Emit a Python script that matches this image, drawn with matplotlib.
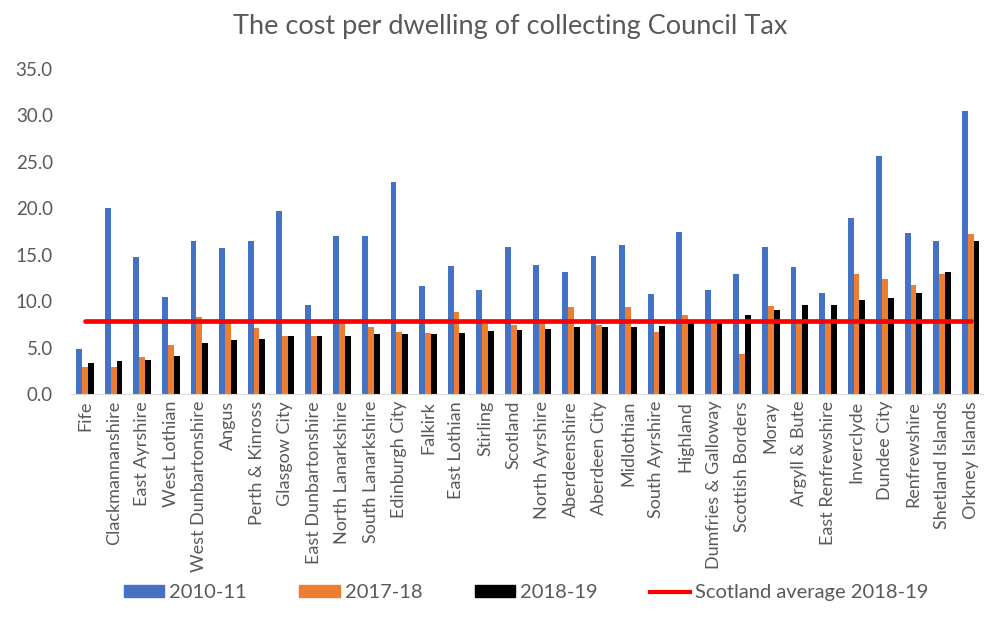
import numpy as np
import matplotlib.pyplot as plt
from matplotlib.lines import Line2D
from matplotlib.patches import Patch

plt.rcParams["font.family"] = ["Lato", "DejaVu Sans"]

councils = [
    "Fife", "Clackmannanshire", "East Ayrshire", "West Lothian", "West Dunbartonshire",
    "Angus", "Perth & Kinross", "Glasgow City", "East Dunbartonshire", "North Lanarkshire",
    "South Lanarkshire", "Edinburgh City", "Falkirk", "East Lothian", "Stirling",
    "Scotland", "North Ayrshire", "Aberdeenshire", "Aberdeen City", "Midlothian",
    "South Ayrshire", "Highland", "Dumfries & Galloway", "Scottish Borders", "Moray",
    "Argyll & Bute", "East Renfrewshire", "Inverclyde", "Dundee City", "Renfrewshire",
    "Shetland Islands", "Orkney Islands",
]
cost_2010 = [4.8, 20.0, 14.8, 10.5, 16.5, 15.7, 16.5, 19.7, 9.6, 17.0, 17.0, 22.8,
             11.6, 13.8, 11.2, 15.8, 13.9, 13.1, 14.9, 16.1, 10.8, 17.4, 11.2, 12.9,
             15.8, 13.7, 10.9, 19.0, 25.6, 17.3, 16.5, 30.5]
cost_2017 = [2.9, 2.9, 4.0, 5.3, 8.3, 7.8, 7.1, 6.3, 6.2, 7.8, 7.2, 6.7,
             6.6, 8.8, 7.5, 7.4, 7.8, 9.4, 7.4, 9.4, 6.7, 8.5, 7.5, 4.3,
             9.5, 8.0, 7.5, 12.9, 12.4, 11.7, 12.9, 17.2]
cost_2018 = [3.3, 3.6, 3.7, 4.1, 5.5, 5.8, 5.9, 6.2, 6.2, 6.3, 6.5, 6.5,
             6.5, 6.6, 6.8, 6.9, 7.0, 7.2, 7.2, 7.2, 7.3, 7.8, 7.9, 8.5,
             9.0, 9.6, 9.6, 10.1, 10.3, 10.9, 13.1, 16.5]
scotland_avg = 7.9

text_col = "#595959"

fig = plt.figure(figsize=(9.84, 6.25), dpi=100)
ax = fig.add_axes([0.072, 0.3696, 0.929, 0.52])

x = np.arange(len(councils))
w = 0.205
ax.bar(x - w, cost_2010, w, color="#4472C4")
ax.bar(x, cost_2017, w, color="#ED7D31")
ax.bar(x + w, cost_2018, w, color="#000000")
ax.plot([x[0], x[-1]], [scotland_avg, scotland_avg], color="#FF0000", lw=3.4,
        solid_capstyle="round")

ax.set_xlim(-0.5, len(councils) - 0.5)
ax.set_ylim(0, 35)
ax.set_yticks(np.arange(0, 36, 5))
ax.set_yticklabels([f"{v:.1f}" for v in np.arange(0, 36, 5)])
ax.set_xticks(x)
ax.set_xticklabels(councils, rotation=90)
ax.tick_params(axis="both", length=0, colors=text_col)
ax.tick_params(axis="x", labelsize=13, pad=5)
ax.tick_params(axis="y", labelsize=13.5, pad=13)
for side in ["left", "right", "top"]:
    ax.spines[side].set_visible(False)
ax.spines["bottom"].set_color("#D9D9D9")

fig.suptitle("The cost per dwelling of collecting Council Tax", x=0.518, y=0.977,
             fontsize=19.5, color=text_col)

handles = [
    Patch(color="#4472C4", label="2010-11"),
    Patch(color="#ED7D31", label="2017-18"),
    Patch(color="#000000", label="2018-19"),
    Line2D([], [], color="#FF0000", lw=3, label="Scotland average 2018-19"),
]
fig.legend(handles=handles, loc="center", bbox_to_anchor=(0.535, 0.052), ncol=4,
           frameon=False, fontsize=14.5, handlelength=2.0, handleheight=0.5,
           columnspacing=2.6, handletextpad=0.25, labelcolor=text_col)

fig.savefig("out.png", dpi=100)
